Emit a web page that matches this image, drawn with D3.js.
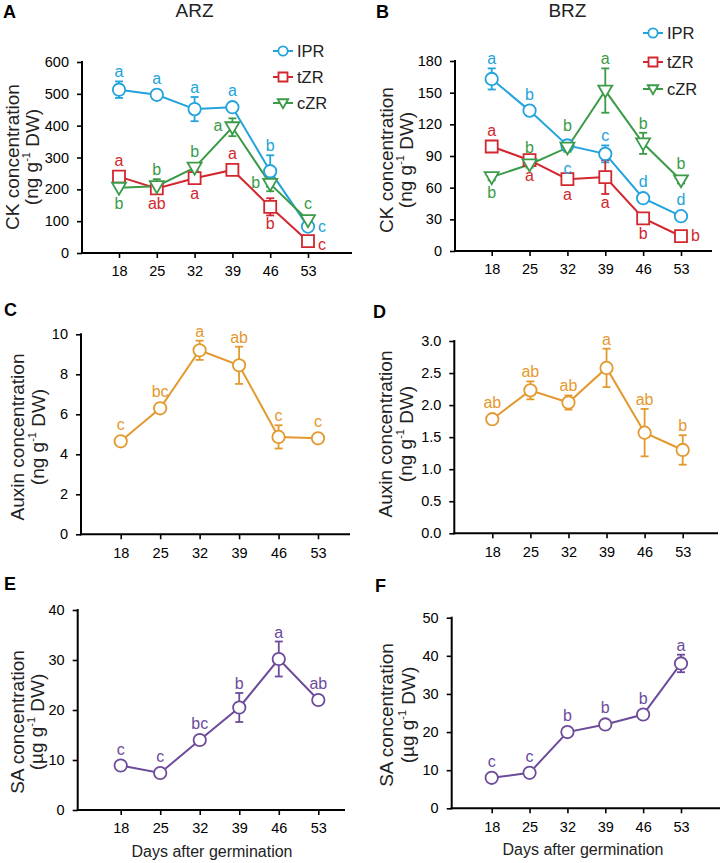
<!DOCTYPE html>
<html><head><meta charset="utf-8">
<script src="https://cdn.jsdelivr.net/npm/d3@7"></script>
<style>
body{margin:0;background:#fff}
svg{display:block}
text{font-family:"Liberation Sans",Arial,Helvetica,sans-serif}
</style>
</head><body>
<svg id="chart" width="723" height="863"></svg>
<script>
// ---------- DATA ----------
const days = [18, 25, 32, 39, 46, 53];

// Panel A: CK, ARZ
const arzIPR = [513, 497, 452, 458, 257, 83];
const arzIPRerr = [26, 14, 38, 10, 50, 8];
const arzIPRsig = ["a", "a", "a", "a", "b", "c"];
const arzTZR = [240, 203, 235, 261, 145, 37];
const arzTZRerr = [10, 12, 12, 8, 27, 5];
const arzTZRsig = ["a", "ab", "a", "a", "b", "c"];
const arzCZR = [205, 210, 268, 395, 217, 103];
const arzCZRerr = [5, 22, 10, 28, 23, 8];
const arzCZRsig = ["b", "b", "b", "a", "b", "c"];

// Panel B: CK, BRZ
const brzIPR = [163, 133, 100, 92, 50, 33];
const brzIPRerr = [10, 3, 5, 8, 3, 3];
const brzIPRsig = ["a", "b", "c", "c", "d", "d"];
const brzTZR = [99, 86, 68, 70, 31, 14];
const brzTZRerr = [3, 3, 3, 16, 3, 2];
const brzTZRsig = ["a", "a", "a", "a", "b", "b"];
const brzCZR = [70, 82, 98, 152, 102, 67];
const brzCZRerr = [3, 3, 4, 21, 10, 3];
const brzCZRsig = ["b", "b", "b", "a", "b", "b"];

// Panel C: Auxin, ARZ
const arzAuxin = [4.65, 6.3, 9.2, 8.45, 4.87, 4.8];
const arzAuxinErr = [0.1, 0.1, 0.48, 0.93, 0.58, 0.1];
const arzAuxinSig = ["c", "bc", "a", "ab", "c", "c"];

// Panel D: Auxin, BRZ
const brzAuxin = [1.78, 2.23, 2.04, 2.58, 1.57, 1.3];
const brzAuxinErr = [0.03, 0.14, 0.11, 0.3, 0.37, 0.23];
const brzAuxinSig = ["ab", "ab", "ab", "a", "ab", "b"];

// Panel E: SA, ARZ
const arzSA = [8.9, 7.4, 14, 20.5, 30.2, 22];
const arzSAerr = [0.3, 0.3, 0.4, 2.9, 3.5, 0.4];
const arzSAsig = ["c", "c", "bc", "b", "a", "ab"];

// Panel F: SA, BRZ
const brzSA = [8, 9.3, 20, 22, 24.6, 38];
const brzSAerr = [0.3, 0.3, 0.4, 0.4, 0.5, 2.3];
const brzSAsig = ["c", "c", "b", "b", "b", "a"];

// Tick values
const ticksCKarz = [0, 100, 200, 300, 400, 500, 600];
const ticksCKbrz = [0, 30, 60, 90, 120, 150, 180];
const ticksAuxArz = [0, 2, 4, 6, 8, 10];
const ticksAuxBrz = [0, 0.5, 1.0, 1.5, 2.0, 2.5, 3.0];
const ticksSAarz = [0, 10, 20, 30, 40];
const ticksSAbrz = [0, 10, 20, 30, 40, 50];

const seriesNames = ["IPR", "tZR", "cZR"];
const titles = ["ARZ", "BRZ"];
const xTitle = "Days after germination";

// ---------- STYLE ----------
const C_BLUE = "#22a3dc", C_RED = "#d2272e", C_GREEN = "#3b9b48",
      C_ORANGE = "#e4992f", C_PURPLE = "#6c4b9b";
const FONT = '"Liberation Sans",Arial,sans-serif';

const svg = d3.select("#chart");

function markerPath(type, s) {
  s = s || 1;
  if (type === "square") { const h = 6 * s; return `M${-h},${-h}H${h}V${h}H${-h}Z`; }
  if (type === "tri") { return `M${-7*s},${-5*s}H${7*s}L0,${7*s}Z`; }
  return null;
}
function drawMarker(g, type, cx, cy, color, s) {
  s = s || 1;
  if (type === "circle") {
    g.append("circle").attr("cx", cx).attr("cy", cy).attr("r", 6.2 * s)
      .attr("fill", "#fff").attr("stroke", color).attr("stroke-width", 1.8);
  } else {
    g.append("path").attr("d", markerPath(type, s))
      .attr("transform", `translate(${cx},${cy})`)
      .attr("fill", "#fff").attr("stroke", color).attr("stroke-width", 1.8);
  }
}

function drawPanel(cfg) {
  const g = svg.append("g");
  const x = d3.scaleLinear().domain([18, 53]).range([cfg.x18, cfg.x53]);
  const y = d3.scaleLinear().domain([0, cfg.yMax]).range([cfg.bottom, cfg.top]);

  // axes
  const xa = g.append("g").attr("transform", `translate(0,${cfg.bottom})`)
    .call(d3.axisBottom(x).tickValues(days).tickSize(5).tickPadding(8).tickSizeOuter(0));
  xa.select(".domain").remove();
  xa.selectAll("line").attr("stroke", "#000").attr("stroke-width", 1.6);
  xa.selectAll("text").attr("font-size", 14.5).attr("fill", "#000").style("font-family", FONT);
  const ya = g.append("g").attr("transform", `translate(${cfg.left},0)`)
    .call(d3.axisLeft(y).tickValues(cfg.ticks).tickFormat(cfg.fmt).tickSize(5).tickPadding(8).tickSizeOuter(0));
  ya.select(".domain").remove();
  ya.selectAll("line").attr("stroke", "#000").attr("stroke-width", 1.6);
  ya.selectAll("text").attr("font-size", 14.5).attr("fill", "#000").style("font-family", FONT);
  g.append("line").attr("x1", cfg.left).attr("x2", cfg.left)
    .attr("y1", cfg.top - 1).attr("y2", cfg.bottom + 1)
    .attr("stroke", "#000").attr("stroke-width", 2);
  g.append("line").attr("x1", cfg.left - 1).attr("x2", cfg.right)
    .attr("y1", cfg.bottom).attr("y2", cfg.bottom)
    .attr("stroke", "#000").attr("stroke-width", 2);

  // y label
  const yl = g.append("g").attr("font-size", 19).attr("fill", "#222");
  yl.append("text").attr("transform", `translate(${cfg.yl1},${cfg.ylc}) rotate(-90)`)
    .attr("text-anchor", "middle").attr("dy", "0.35em").text(cfg.ylab1);
  const t2 = yl.append("text").attr("transform", `translate(${cfg.yl2},${cfg.ylc}) rotate(-90)`)
    .attr("text-anchor", "middle").attr("dy", "0.35em");
  t2.append("tspan").text(cfg.ylab2[0]);
  t2.append("tspan").attr("font-size", 11).attr("dy", "-0.7em").text("-1");
  t2.append("tspan").attr("dy", "0.45em").text(cfg.ylab2[1]);

  // panel letter
  g.append("text").attr("x", cfg.letterX).attr("y", cfg.letterY)
    .attr("font-size", 18).attr("font-weight", "bold").attr("fill", "#000").text(cfg.letter);
  if (cfg.title) {
    g.append("text").attr("x", x(32)).attr("y", 17).attr("text-anchor", "middle")
      .attr("font-size", 19).attr("fill", "#222").text(cfg.title);
  }
  if (cfg.xTitle) {
    g.append("text").attr("x", cfg.xTitleX).attr("y", cfg.xTitleY).attr("text-anchor", "middle")
      .attr("font-size", 16).attr("fill", "#222").text(cfg.xTitle);
  }

  const line = d3.line().x((d, i) => x(days[i])).y(d => y(d));
  cfg.series.forEach(s => {
    g.append("path").datum(s.vals).attr("d", line)
      .attr("fill", "none").attr("stroke", s.color).attr("stroke-width", 2);
  });
  cfg.series.forEach(s => {
    s.vals.forEach((v, i) => {
      const e = s.errs[i], cx = x(days[i]);
      const eb = g.append("g").attr("stroke", s.color).attr("stroke-width", 1.8);
      eb.append("line").attr("x1", cx).attr("x2", cx).attr("y1", y(v - e)).attr("y2", y(v + e));
      [v - e, v + e].forEach(w => eb.append("line").attr("x1", cx - 4).attr("x2", cx + 4).attr("y1", y(w)).attr("y2", y(w)));
    });
  });
  cfg.series.forEach(s => {
    s.vals.forEach((v, i) => drawMarker(g, s.marker, x(days[i]), y(v), s.color));
  });
  cfg.series.forEach(s => {
    s.vals.forEach((v, i) => {
      const cx = x(days[i]), cy = y(v), e = s.errs[i];
      const pos = s.pos[i];
      const off = (s.off && s.off[i]) || [0, 0];
      let tx = cx, ty, anchor = "middle";
      if (pos === "t") ty = Math.min(y(v + e), cy - 7) - 4;
      else if (pos === "b") ty = Math.max(y(v - e), cy + 7) + 14;
      else if (pos === "l") { tx = cx - 10; ty = cy + 4; anchor = "end"; }
      else { tx = cx + 10; ty = cy + 5; anchor = "start"; }
      g.append("text").attr("x", tx + off[0]).attr("y", ty + off[1]).attr("text-anchor", anchor)
        .attr("font-size", 16).attr("fill", s.color).text(s.sigs[i]);
    });
  });
  if (cfg.legend) {
    cfg.series.forEach((s, k) => {
      const ly = cfg.legend.y[k], lx = cfg.legend.x;
      g.append("line").attr("x1", lx - 10).attr("x2", lx + 10).attr("y1", ly).attr("y2", ly)
        .attr("stroke", s.color).attr("stroke-width", 2);
      drawMarker(g, s.marker, lx, ly, s.color, 0.75);
      g.append("text").attr("x", lx + 14).attr("y", ly + 6).attr("font-size", 16.5)
        .attr("fill", "#222").text(seriesNames[k]);
    });
  }
}

const ckLab2 = ["(ng g", " DW)"];
const saLab2 = ["(\u00b5g g", " DW)"];

drawPanel({
  letter: "A", letterX: 3, letterY: 18, title: titles[0],
  left: 82, right: 352, x18: 119, x53: 308, top: 62, bottom: 253, yMax: 600,
  ticks: ticksCKarz, fmt: d3.format("d"),
  ylab1: "CK concentration", ylab2: ckLab2, yl1: 12, yl2: 31, ylc: 157,
  legend: { x: 283, y: [51, 77, 103] },
  series: [
    { vals: arzIPR, errs: arzIPRerr, sigs: arzIPRsig, color: C_BLUE, marker: "circle", pos: ["t","t","t","t","t","r"] },
    { vals: arzTZR, errs: arzTZRerr, sigs: arzTZRsig, color: C_RED, marker: "square", pos: ["t","b","b","t","b","r"], off: [0,0,0,0,0,[0,4]] },
    { vals: arzCZR, errs: arzCZRerr, sigs: arzCZRsig, color: C_GREEN, marker: "tri", pos: ["b","t","t","l","l","t"] }
  ]
});
drawPanel({
  letter: "B", letterX: 376, letterY: 18, title: titles[1],
  left: 455, right: 712, x18: 491.7, x53: 681, top: 61, bottom: 251, yMax: 180,
  ticks: ticksCKbrz, fmt: d3.format("d"),
  ylab1: "CK concentration", ylab2: ckLab2, yl1: 386, yl2: 405, ylc: 160,
  legend: { x: 653, y: [33, 62, 89] },
  series: [
    { vals: brzIPR, errs: brzIPRerr, sigs: brzIPRsig, color: C_BLUE, marker: "circle", pos: ["t","t","b","t","t","t"], off: [0,0,[0,8],0,0,0] },
    { vals: brzTZR, errs: brzTZRerr, sigs: brzTZRsig, color: C_RED, marker: "square", pos: ["t","b","b","b","b","r"] },
    { vals: brzCZR, errs: brzCZRerr, sigs: brzCZRsig, color: C_GREEN, marker: "tri", pos: ["b","t","t","t","t","t"], off: [0,0,[0,-6],0,0,0] }
  ]
});
drawPanel({
  letter: "C", letterX: 4, letterY: 316,
  left: 81, right: 350, x18: 120.7, x53: 318, top: 334.3, bottom: 534.3, yMax: 10,
  ticks: ticksAuxArz, fmt: d3.format("d"),
  ylab1: "Auxin concentration", ylab2: ckLab2, yl1: 17, yl2: 37, ylc: 437,
  series: [
    { vals: arzAuxin, errs: arzAuxinErr, sigs: arzAuxinSig, color: C_ORANGE, marker: "circle", pos: ["t","t","t","t","t","t"] }
  ]
});
drawPanel({
  letter: "D", letterX: 373, letterY: 318,
  left: 454.3, right: 718, x18: 492.3, x53: 682.7, top: 341, bottom: 533.3, yMax: 3,
  ticks: ticksAuxBrz, fmt: d3.format(".1f"),
  ylab1: "Auxin concentration", ylab2: ckLab2, yl1: 385, yl2: 405, ylc: 434,
  series: [
    { vals: brzAuxin, errs: brzAuxinErr, sigs: brzAuxinSig, color: C_ORANGE, marker: "circle", pos: ["t","t","t","t","t","t"] }
  ]
});
drawPanel({
  letter: "E", letterX: 4, letterY: 590,
  left: 77.7, right: 345, x18: 120.7, x53: 318.3, top: 610, bottom: 810, yMax: 40,
  ticks: ticksSAarz, fmt: d3.format("d"),
  ylab1: "SA concentration", ylab2: saLab2, yl1: 17, yl2: 36, ylc: 722,
  xTitle: xTitle, xTitleX: 212, xTitleY: 857,
  series: [
    { vals: arzSA, errs: arzSAerr, sigs: arzSAsig, color: C_PURPLE, marker: "circle", pos: ["t","t","t","t","t","t"] }
  ]
});
drawPanel({
  letter: "F", letterX: 375, letterY: 592,
  left: 451.7, right: 720, x18: 491.7, x53: 681, top: 617.7, bottom: 808.3, yMax: 50,
  ticks: ticksSAbrz, fmt: d3.format("d"),
  ylab1: "SA concentration", ylab2: saLab2, yl1: 386, yl2: 407, ylc: 715,
  xTitle: xTitle, xTitleX: 583, xTitleY: 855,
  series: [
    { vals: brzSA, errs: brzSAerr, sigs: brzSAsig, color: C_PURPLE, marker: "circle", pos: ["t","t","t","t","t","t"] }
  ]
});
</script>
</body></html>
